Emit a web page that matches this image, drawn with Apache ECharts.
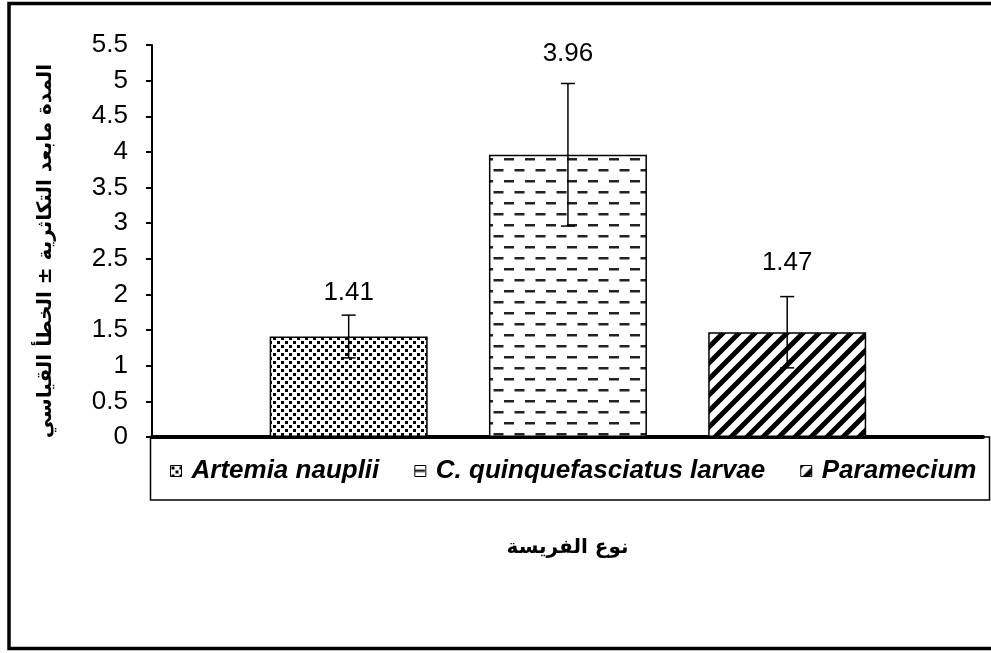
<!DOCTYPE html>
<html lang="ar">
<head>
    <meta charset="UTF-8">
    <title>نوع الفريسة</title>
    <script src="https://cdn.jsdelivr.net/npm/echarts@6/dist/echarts.min.js"></script>
    <style>
        html, body {
            margin: 0;
            padding: 0;
            background: #fff;
        }

        #chart {
            width: 991px;
            height: 653px;
        }
    </style>
</head>
<body>
<div id="chart"></div>
<script>
    // data
    var preyTypes = ['Artemia nauplii', 'C. quinquefasciatus larvae', 'Paramecium'];
    var meanValues = [1.41, 3.96, 1.47];
    var stdErrors = [0.30, 1.00, 0.50];
    var yTicks = [0, 0.5, 1, 1.5, 2, 2.5, 3, 3.5, 4, 4.5, 5, 5.5];

    var yTitle = 'المدة مابعد التكاثرية ± الخطأ القياسي';
    var xTitle = 'نوع الفريسة';

    var latin = '"Liberation Sans", Arial, "DejaVu Sans", sans-serif';

    // fill patterns, one per prey
    function makeTile(w, h, draw) {
        var c = document.createElement('canvas');
        c.width = w;
        c.height = h;
        var ctx = c.getContext('2d');
        ctx.fillStyle = '#fff';
        ctx.fillRect(0, 0, w, h);
        draw(ctx);
        return {image: c, repeat: 'repeat'};
    }

    var dots = makeTile(8, 8, function (ctx) {
        ctx.fillStyle = '#000';
        ctx.fillRect(1, 1, 3, 3);
        ctx.fillRect(5, 5, 3, 3);
    });
    var dashes = makeTile(21, 22, function (ctx) {
        ctx.fillStyle = '#222';
        ctx.fillRect(0, 4, 10, 2.5);
        ctx.fillRect(10.5, 15, 10, 2.5);
    });
    var stripes = makeTile(16, 16, function (ctx) {
        ctx.strokeStyle = '#000';
        ctx.lineWidth = 5;
        ctx.beginPath();
        ctx.moveTo(-2, 18);
        ctx.lineTo(18, -2);
        ctx.moveTo(-10, 10);
        ctx.lineTo(10, -10);
        ctx.moveTo(6, 26);
        ctx.lineTo(26, 6);
        ctx.stroke();
    });
    var fills = [dots, dashes, stripes];
    var labelGaps = [31, 88, 56];

    var series = [];
    for (var i = 0; i < preyTypes.length; ++i) {
        series.push({
            name: preyTypes[i],
            type: 'bar',
            barWidth: 158,
            barGap: '-100%',
            data: [[i, meanValues[i]]],
            itemStyle: {color: fills[i], borderColor: '#000', borderWidth: 1.5},
            label: {
                show: true,
                position: 'top',
                distance: labelGaps[i],
                color: '#000',
                fontSize: 26,
                fontFamily: latin,
                formatter: function (p) {
                    return p.value[1].toFixed(2);
                }
            }
        });
    }

    var errData = [];
    for (var j = 0; j < meanValues.length; ++j) {
        errData.push([j, meanValues[j] - stdErrors[j], meanValues[j] + stdErrors[j]]);
    }
    series.push({
        type: 'custom',
        z: 5,
        data: errData,
        renderItem: function (params, api) {
            var lo = api.coord([api.value(0), api.value(1)]);
            var hi = api.coord([api.value(0), api.value(2)]);
            var cap = 7;
            var st = {stroke: '#000', lineWidth: 1.5};
            return {
                type: 'group',
                children: [
                    {type: 'line', shape: {x1: hi[0], y1: hi[1], x2: lo[0], y2: lo[1]}, style: st},
                    {type: 'line', shape: {x1: hi[0] - cap, y1: hi[1], x2: hi[0] + cap, y2: hi[1]}, style: st},
                    {type: 'line', shape: {x1: lo[0] - cap, y1: lo[1], x2: lo[0] + cap, y2: lo[1]}, style: st}
                ]
            };
        }
    });

    var chart = echarts.init(document.getElementById('chart'), null, {renderer: 'canvas'});
    chart.setOption({
        animation: false,
        backgroundColor: '#fff',
        grid: {left: 152, right: 8, top: 45, bottom: 216},
        legend: {
            data: preyTypes,
            left: 170,
            top: 458,
            width: 815,
            padding: 0,
            itemWidth: 11,
            itemHeight: 11,
            itemGap: 35,
            icon: 'rect',
            itemStyle: {borderColor: '#000', borderWidth: 1},
            textStyle: {
                color: '#000', fontSize: 26, fontWeight: 'bold', fontStyle: 'italic', fontFamily: latin,
                padding: [0, 0, 0, 5]
            }
        },
        xAxis: {
            type: 'value',
            min: -0.897,
            max: 2.893,
            name: xTitle,
            nameLocation: 'middle',
            nameGap: 101,
            nameTextStyle: {color: '#000', fontSize: 20, fontWeight: 'bold', fontFamily: '"DejaVu Sans", sans-serif'},
            axisLine: {show: true, onZero: false, lineStyle: {color: '#000', width: 4}},
            axisTick: {show: false},
            axisLabel: {show: false},
            splitLine: {show: false}
        },
        yAxis: {
            type: 'value',
            min: yTicks[0],
            max: yTicks[yTicks.length - 1],
            interval: 0.5,
            name: yTitle,
            nameLocation: 'middle',
            nameRotate: 90,
            nameGap: 96,
            nameTextStyle: {
                color: '#000', fontSize: 20, fontWeight: 'bold', fontFamily: '"DejaVu Sans", sans-serif',
                padding: [0, 20, 0, 0]
            },
            axisLine: {show: true, onZero: false, lineStyle: {color: '#000', width: 2}},
            axisTick: {show: true, length: 6, lineStyle: {color: '#000', width: 2}},
            axisLabel: {color: '#000', fontSize: 26, fontFamily: latin, margin: 24},
            splitLine: {show: false}
        },
        graphic: [
            {
                type: 'rect',
                silent: true,
                z: -1,
                shape: {x: 150.5, y: 437, width: 839, height: 63},
                style: {fill: 'none', stroke: '#000', lineWidth: 1.5}
            },
            {
                type: 'rect',
                silent: true,
                shape: {x: 9, y: 3.5, width: 1000, height: 645},
                style: {fill: 'none', stroke: '#000', lineWidth: 3.5}
            }
        ],
        series: series
    });
</script>
</body>
</html>
